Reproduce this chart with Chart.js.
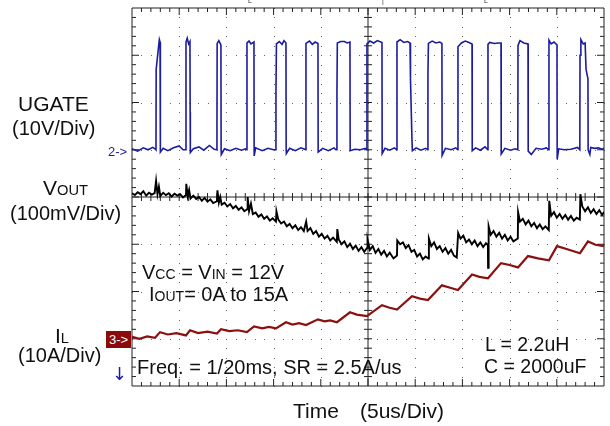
<!DOCTYPE html>
<html>
<head>
<meta charset="utf-8">
<script src="https://cdn.jsdelivr.net/npm/chart.js@4.4.0/dist/chart.umd.min.js"></script>
<style>
  body { margin: 0; background: #fff; }
  #wrap { position: relative; width: 610px; height: 426px; overflow: hidden; font-family: "Liberation Sans", Arial, sans-serif; color: #111; }
  #scope { position: absolute; left: 0; top: 0; }
  .lbl { position: absolute; white-space: pre; line-height: 1; }
  .sc { font-size: 0.7em; }
  .ch2 { color: #1c1ca0; font-size: 13px; }
  .ch3 { background: #8b0a0a; color: #fff; font-size: 13px; padding: 2px 3px 2px 3px; }
  .trig { font-size: 7px; color: #333; }
</style>
</head>
<body>
<div id="wrap">
  <canvas id="scope" width="610" height="426"></canvas>

  <div class="lbl" style="left:18px;top:93px;font-size:21px;">UGATE</div>
  <div class="lbl" style="left:12px;top:118px;font-size:20px;">(10V/Div)</div>
  <div class="lbl" style="left:43px;top:177px;font-size:21px;">V<span class="sc">OUT</span></div>
  <div class="lbl" style="left:10px;top:203px;font-size:20px;">(100mV/Div)</div>
  <div class="lbl" style="left:55px;top:325px;font-size:21px;">I<span class="sc">L</span></div>
  <div class="lbl" style="left:18px;top:345px;font-size:20px;">(10A/Div)</div>
  <div class="lbl" style="left:112px;top:365px;font-size:18px;color:#1c1ca0;font-family:'DejaVu Sans';">↓</div>

  <div class="lbl ch2" style="left:108px;top:145px;">2-&gt;</div>
  <div class="lbl ch3" style="left:106px;top:331px;">3-&gt;</div>

  <div class="lbl trig" style="left:248px;top:-3px;">L</div>
  <div class="lbl trig" style="left:382px;top:-3px;">|</div>
  <div class="lbl trig" style="left:484px;top:-3px;">L</div>

  <div class="lbl" style="left:142px;top:262px;font-size:20px;">V<span class="sc">CC</span> = V<span class="sc">IN</span> = 12V</div>
  <div class="lbl" style="left:149px;top:284px;font-size:20px;">I<span class="sc">OUT</span>= 0A to 15A</div>
  <div class="lbl" style="left:137px;top:357px;font-size:20px;">Freq. = 1/20ms, SR = 2.5A/us</div>
  <div class="lbl" style="left:485px;top:335px;font-size:19.5px;">L = 2.2uH</div>
  <div class="lbl" style="left:484px;top:357px;font-size:19.5px;">C = 2000uF</div>

  <div class="lbl" style="left:293px;top:400px;font-size:21px;">Time</div>
  <div class="lbl" style="left:360px;top:400px;font-size:21px;">(5us/Div)</div>
</div>

<script>
// ---------- data (time in us, 5us/Div) ----------

// UGATE, volts (10V/Div, ground at marker 2)
const ugateTime = [
  0, 0.6, 1.2, 1.7, 2.2, 2.5,
  2.54, 2.56, 2.85, 2.9, 2.97, 2.99, 3.02, 3.3, 3.8, 4.4, 5.0, 5.4,
  5.70, 5.72, 5.85, 6.0, 6.14, 6.16, 6.18, 6.5, 7.1, 7.6, 8.2, 8.7,
  8.98, 9.00, 9.02, 9.2, 9.42, 9.44, 9.46, 9.8, 10.4, 11.0, 11.6, 12.0,
  12.16, 12.18, 12.4, 12.6, 12.92, 12.94, 13.1, 13.8, 14.4, 15.0,
  15.23, 15.25, 15.3, 15.6, 15.9, 16.1, 16.31, 16.33, 16.35, 16.7, 17.3, 17.9, 18.3,
  18.41, 18.43, 18.8, 19.1, 19.4, 19.70, 19.72, 20.2, 20.8, 21.4, 21.6,
  21.69, 21.71, 21.75, 22.1, 22.5, 22.8, 23.09, 23.11, 23.6, 24.2, 24.7,
  24.87, 24.89, 25.2, 25.6, 26.0, 26.48, 26.5, 26.8, 27.3, 27.8,
  28.05, 28.07, 28.4, 28.8, 29.2, 29.45, 29.5, 29.66, 29.7, 30.1, 30.6, 31.1,
  31.33, 31.35, 31.4, 31.8, 32.2, 32.6, 32.83, 32.85, 33.2, 33.8, 34.3,
  34.51, 34.53, 34.9, 35.3, 35.7, 36.02, 36.04, 36.4, 36.9, 37.4,
  37.69, 37.71, 37.9, 38.4, 38.8, 39.09, 39.11, 39.5, 40.1, 40.6,
  40.87, 40.89, 41.1, 41.5, 41.95, 41.97, 42.3, 42.8, 43.4, 43.9,
  44.15, 44.17, 44.4, 44.7, 45.02, 45.04, 45.2, 45.8, 46.5, 47.2,
  47.44, 47.46, 47.55, 47.8, 48.0, 48.1, 48.30, 48.32, 48.5, 48.6, 49.0, 49.4, 49.8, 50
];
const ugateVolts = [
  0.2, -0.3, 0.4, 0, 0.5, 0.1,
  0, 17, 22.5, 23.3, 22.8, 10, -0.5, 0.3, -0.2, 0.4, 0.8, 0,
  0, 22.8, 23.6, 22.4, 22.9, 8, -0.6, 0.2, 0.6, -0.1, 0.9, 0.1,
  0, 4, 22.5, 23.1, 22.2, 0, -1.0, 0.2, -0.2, 0.3, -0.1, 0.2,
  0, 22.6, 23.0, 22.4, 22.8, -1.3, 0.4, -0.2, 0.3, 0,
  0, 12, 22.4, 22.9, 22.3, 23.1, 22.6, 0, -0.8, 0.3, -0.2, 0.4, 0.1,
  0, 22.5, 23.0, 22.3, 22.8, 22.5, -0.5, 0.3, -0.2, 0.4, 0,
  0, 12, 22.6, 22.9, 22.9, 22.6, 22.8, -0.2, 0.1, 0, 0.3,
  0, 22.4, 23.0, 22.6, 23.1, 22.7, -0.8, 0.3, -0.1, 0.4,
  0, 22.8, 23.3, 22.7, 22.9, 22.6, 15, 2, -0.2, 0.4, -0.1, 0.3,
  0, 16, 22.5, 23.0, 22.6, 22.8, 22.5, -1.2, 0.3, 0, 0.4,
  0, 21.8, 22.6, 23.0, 22.7, 22.4, -0.2, 0.4, -0.1, 0.6,
  0, 22.3, 22.7, 22.5, 22.6, 22.6, -0.9, 0.3, -0.1, 0.2,
  0, 22.1, 23.1, 22.6, 22.4, -0.3, -1.0, 0.3, 0.1, 0.4,
  0, 23.2, 22.4, 22.8, 22.2, -2.0, 0.2, 0, 0.1, 0.5,
  0, 20, 23.3, 22.4, 22.6, 17, 15, 0, -1.0, 0.5, 0.3, 0.4, 0.1, 0.3
];

// VOUT, mV from the centre line (100mV/Div)
const voutTime = [
  0, 0.3, 0.6, 0.9, 1.2, 1.5, 1.8, 2.1, 2.4, 2.55, 2.7, 2.85, 3.0, 3.3, 3.6, 3.9, 4.2, 4.5, 4.8, 5.1, 5.4,
  5.72, 5.75, 5.9, 6.05, 6.2, 6.5, 6.8, 7.1, 7.4, 7.7, 8.0, 8.3, 8.6, 9.0, 9.05, 9.2, 9.35, 9.5, 9.8,
  10.1, 10.4, 10.7, 11.0, 11.3, 11.6, 11.9, 12.2, 12.25, 12.4, 12.6, 12.8, 13.1, 13.4, 13.7, 14.0, 14.3,
  14.6, 14.9, 15.25, 15.3, 15.5, 15.8, 16.1, 16.4, 16.7, 17.0, 17.3, 17.6, 17.9, 18.2, 18.45, 18.6, 18.9,
  19.2, 19.5, 19.8, 20.1, 20.4, 20.7, 21.0, 21.3, 21.7, 21.75, 21.9, 22.2, 22.5, 22.8, 23.1, 23.4, 23.7,
  24.0, 24.3, 24.6, 24.9, 24.95, 25.2, 25.5, 25.8, 26.1, 26.4, 26.7, 27.0, 27.3, 27.7, 28.07, 28.1, 28.4,
  28.7, 29.0, 29.3, 29.6, 29.9, 30.2, 30.5, 30.8, 31.1, 31.4, 31.45, 31.7, 32.0, 32.3, 32.6, 32.9, 33.2,
  33.5, 33.8, 34.1, 34.4, 34.55, 34.8, 35.1, 35.4, 35.7, 36.0, 36.3, 36.6, 36.9, 37.2, 37.5, 37.7, 37.72,
  37.78, 38.0, 38.3, 38.6, 38.9, 39.2, 39.5, 39.8, 40.1, 40.4, 40.87, 40.9, 41.1, 41.4, 41.7, 42.0, 42.3,
  42.6, 42.9, 43.2, 43.5, 43.8, 44.15, 44.2, 44.4, 44.7, 45.0, 45.3, 45.6, 45.9, 46.2, 46.5, 46.8, 47.1,
  47.44, 47.5, 47.7, 48.0, 48.3, 48.6, 48.9, 49.2, 49.5, 49.8, 50
];
const voutMv = [
  8, 4, 10, 6, 12, 3, 9, 5, 8, 34, 6, 22, 2, 9, 4, 8, 1, 7, 3, 6, -1,
  4, 28, 2, 15, -3, 3, -4, 0, -8, -2, -10, -5, -13, -9, 14, -12, 0, -16, -12,
  -20, -15, -24, -19, -27, -22, -30, -26, 0, -30, -14, -36, -33, -42, -37, -46, -41,
  -50, -45, -52, -30, -48, -56, -52, -62, -57, -66, -60, -70, -64, -72, -52, -72, -66,
  -78, -72, -84, -78, -88, -82, -92, -86, -95, -68, -90, -100, -94, -106, -99, -110, -103,
  -114, -106, -116, -108, -90, -112, -104, -118, -110, -122, -114, -126, -118, -130, -124, -92, -100,
  -96, -108, -102, -116, -112, -126, -120, -132, -126, -130, -88, -104, -96, -110, -104, -116, -108,
  -120, -112, -124, -128, -76, -88, -82, -96, -90, -100, -92, -104, -96, -106, -98, -102, -150,
  -62, -80, -72, -84, -76, -88, -80, -92, -84, -94, -88, -32, -52, -46, -58, -50, -62,
  -55, -66, -58, -68, -62, -70, -8, -40, -32, -44, -36, -46, -38, -48, -40, -50, -44,
  -48, 6, -20, -30, -22, -34, -26, -36, -28, -38, -32
];

// IL, amps (10A/Div, zero at marker 3)
const ilTime = [
  0, 0.8, 1.6, 2.44, 2.97, 3.8, 4.7, 5.72, 6.14, 7.0, 8.0, 9.00, 9.43, 10.3, 11.2, 12.18, 12.92,
  13.8, 14.5, 15.25, 16.31, 17.0, 17.7, 18.43, 19.70, 20.4, 21.0, 21.71, 23.09, 23.8, 24.89, 26.48,
  27.2, 28.07, 29.66, 30.5, 31.35, 32.83, 33.7, 34.53, 36.02, 36.8, 37.71, 39.09, 40.0, 40.89, 41.95,
  43.0, 44.17, 45.02, 46.2, 47.46, 48.30, 49.1, 50
];
const ilAmps = [
  0.4, 0.0, 0.5, 0.2, 1.4, 0.9, 1.2, 0.7, 1.8, 1.2, 1.5, 1.1, 2.0, 1.6, 1.8, 1.4, 2.6,
  2.2, 2.5, 2.2, 3.5, 3.0, 3.3, 2.9, 4.1, 3.7, 3.9, 3.5, 5.6, 5.1, 4.8, 7.1,
  6.6, 6.2, 9.0, 8.5, 8.2, 11.3, 10.8, 10.3, 13.6, 13.1, 12.8, 16.0, 15.6, 15.1, 17.5,
  17.0, 16.6, 19.6, 18.9, 18.1, 20.6, 19.9, 19.6
];

const toPoints = (ts, vs) => ts.map((t, i) => ({ x: t, y: vs[i] }));

// ---------- scope graticule ----------
const graticule = {
  id: 'graticule',
  beforeDatasetsDraw(chart) {
    const { ctx, chartArea: a } = chart;
    const xs = chart.scales.x;
    const ys = chart.scales.yV;
    const cx = xs.getPixelForValue(25);
    const cy = ys.getPixelForValue(0);
    ctx.save();
    ctx.fillStyle = '#fff';
    ctx.fillRect(a.left, a.top, a.right - a.left, a.bottom - a.top);

    // dotted major lines
    ctx.fillStyle = '#666';
    for (let t = 5; t < 50; t += 5) {
      if (t === 25) continue;
      const px = Math.round(xs.getPixelForValue(t));
      for (let v = -400; v <= 400; v += 20) {
        ctx.fillRect(px, Math.round(ys.getPixelForValue(v)), 1, 1);
      }
    }
    for (let v = -300; v < 400; v += 100) {
      if (v === 0) continue;
      const py = Math.round(ys.getPixelForValue(v));
      for (let t = 0; t <= 50; t += 1) {
        ctx.fillRect(Math.round(xs.getPixelForValue(t)), py, 1, 1);
      }
    }

    // centre cross and frame
    ctx.strokeStyle = '#222';
    ctx.lineWidth = 1;
    ctx.beginPath();
    ctx.moveTo(a.left, cy); ctx.lineTo(a.right, cy);
    ctx.moveTo(cx, a.top); ctx.lineTo(cx, a.bottom);
    ctx.rect(a.left, a.top, a.right - a.left, a.bottom - a.top);

    // ticks every 1/5 Div
    for (let t = 1; t < 50; t += 1) {
      const px = xs.getPixelForValue(t);
      const len = t % 5 === 0 ? 7 : 4;
      ctx.moveTo(px, a.top); ctx.lineTo(px, a.top + len);
      ctx.moveTo(px, a.bottom); ctx.lineTo(px, a.bottom - len);
      ctx.moveTo(px, cy - 4); ctx.lineTo(px, cy + 4);
    }
    for (let v = -380; v < 400; v += 20) {
      const py = ys.getPixelForValue(v);
      const len = v % 100 === 0 ? 7 : 4;
      ctx.moveTo(a.left, py); ctx.lineTo(a.left + len, py);
      ctx.moveTo(a.right, py); ctx.lineTo(a.right - len, py);
      ctx.moveTo(cx - 4, py); ctx.lineTo(cx + 4, py);
    }
    ctx.stroke();
    ctx.restore();
  }
};

new Chart(document.getElementById('scope'), {
  type: 'line',
  data: {
    datasets: [
      { label: 'UGATE', data: toPoints(ugateTime, ugateVolts), yAxisID: 'yU', borderColor: '#1c1ca0', borderWidth: 1.6 },
      { label: 'VOUT', data: toPoints(voutTime, voutMv), yAxisID: 'yV', borderColor: '#000', borderWidth: 1.9 },
      { label: 'IL', data: toPoints(ilTime, ilAmps), yAxisID: 'yI', borderColor: '#8b1010', borderWidth: 2.2 }
    ]
  },
  options: {
    responsive: false,
    animation: false,
    events: [],
    layout: { padding: { left: 132, right: 6, top: 8, bottom: 40 } },
    elements: { point: { radius: 0 }, line: { tension: 0 } },
    plugins: { legend: { display: false }, tooltip: { enabled: false } },
    scales: {
      x: { type: 'linear', min: 0, max: 50, display: false },
      yU: { type: 'linear', min: -50, max: 30, display: false },
      yV: { type: 'linear', min: -400, max: 400, display: false },
      yI: { type: 'linear', min: -10, max: 70, display: false }
    }
  },
  plugins: [graticule]
});
</script>
</body>
</html>
